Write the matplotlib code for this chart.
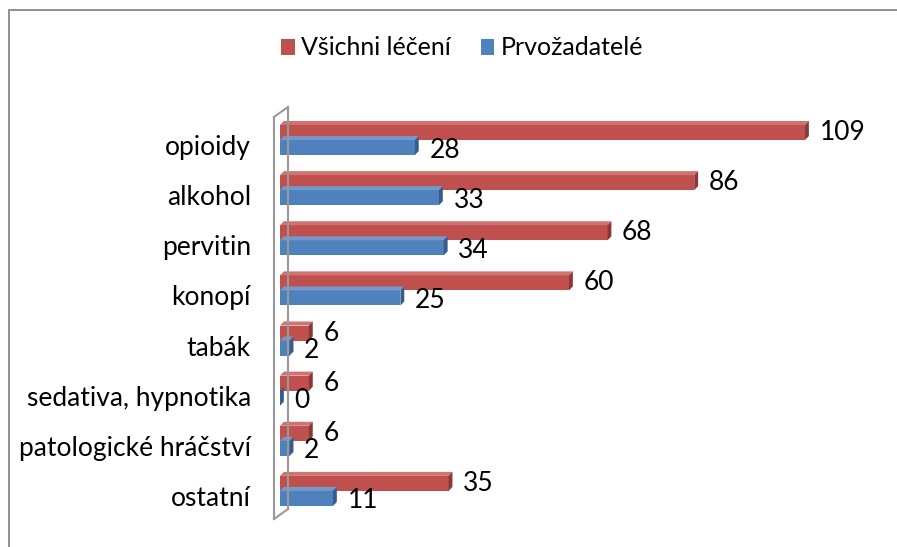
import matplotlib
matplotlib.use("Agg")
import matplotlib.pyplot as plt
from matplotlib.patches import Polygon, Rectangle
from matplotlib.lines import Line2D

categories = ["opioidy", "alkohol", "pervitin", "konopí", "tabák",
              "sedativa, hypnotika", "patologické hráčství", "ostatní"]
vsichni = [109, 86, 68, 60, 6, 6, 6, 35]
prvozadatele = [28, 33, 34, 25, 2, 0, 2, 11]
series_names = ["Všichni léčení", "Prvožadatelé"]

RED, RED_D, RED_L = "#C0504D", "#8C3836", "#D07270"
BLUE, BLUE_D, BLUE_L = "#4F81BD", "#385D8A", "#7399CC"

plt.rcParams["font.family"] = ["Lato", "DejaVu Sans"]
FS = 19

fig = plt.figure(figsize=(8.97, 5.47), dpi=100)
W, H = 897, 547

# outer chart frame
fig.patches.append(Rectangle((9 / W, -0.1), (905 - 9) / W, 1.1 - 10 / H,
                             transform=fig.transFigure, fill=False,
                             edgecolor="#888888", lw=1.3))

ax = fig.add_axes([280 / W, 1 - 521 / H, (858 - 280) / W, (521 - 120) / H])
ax.set_xlim(0, 120)
ax.set_ylim(7.5, -0.5)
for s in ax.spines.values():
    s.set_visible(False)
ax.set_xticks([])
ax.set_yticks(range(len(categories)))
ax.set_yticklabels(categories, fontsize=FS)
ax.tick_params(axis="y", length=0, pad=21)

h = 0.3
off = -0.1
dx, dy = 0.8, 0.08


def bar3d(v, yc, c, cd, cl):
    y0, y1 = yc - h / 2, yc + h / 2
    ax.add_patch(Rectangle((0, y0), v, h, facecolor=c, edgecolor="none", zorder=3))
    ax.add_patch(Polygon([(0, y0), (dx, y0 - dy), (v + dx, y0 - dy), (v, y0)],
                         closed=True, facecolor=cl, edgecolor="none", zorder=3))
    ax.add_patch(Polygon([(v, y0), (v + dx, y0 - dy), (v + dx, y1 - dy), (v, y1)],
                         closed=True, facecolor=cd, edgecolor="none", zorder=3))


for i, (a, b) in enumerate(zip(vsichni, prvozadatele)):
    yr = i + off - h / 2
    yb = i + off + h / 2
    bar3d(a, yr, RED, RED_D, RED_L)
    bar3d(b, yb, BLUE, BLUE_D, BLUE_L)
    ax.text(a + 3, yr + 0.0, str(a), fontsize=FS, va="center", ha="left")
    ax.text(b + 3, yb + 0.05, str(b), fontsize=FS, va="center", ha="left")

# wall (3D axis) outline
wall = [((274 / W, 1 - 117 / H), (274 / W, 1 - 519 / H)),
        ((288 / W, 1 - 107 / H), (288 / W, 1 - 509 / H)),
        ((274 / W, 1 - 117 / H), (288 / W, 1 - 107 / H)),
        ((274 / W, 1 - 519 / H), (288 / W, 1 - 509 / H))]
for (p, q) in wall:
    fig.add_artist(Line2D([p[0], q[0]], [p[1], q[1]], transform=fig.transFigure,
                          color="#999999", lw=1.5))

# legend
handles = [Rectangle((0, 0), 1, 1, facecolor=RED), Rectangle((0, 0), 1, 1, facecolor=BLUE)]
fig.legend(handles, series_names, loc="center", bbox_to_anchor=(462 / W, 1 - 48 / H),
           ncol=2, frameon=False, fontsize=18, handlelength=0.55, handleheight=0.6,
           handletextpad=0.25, columnspacing=1.2)

fig.savefig("out.png", dpi=100)
